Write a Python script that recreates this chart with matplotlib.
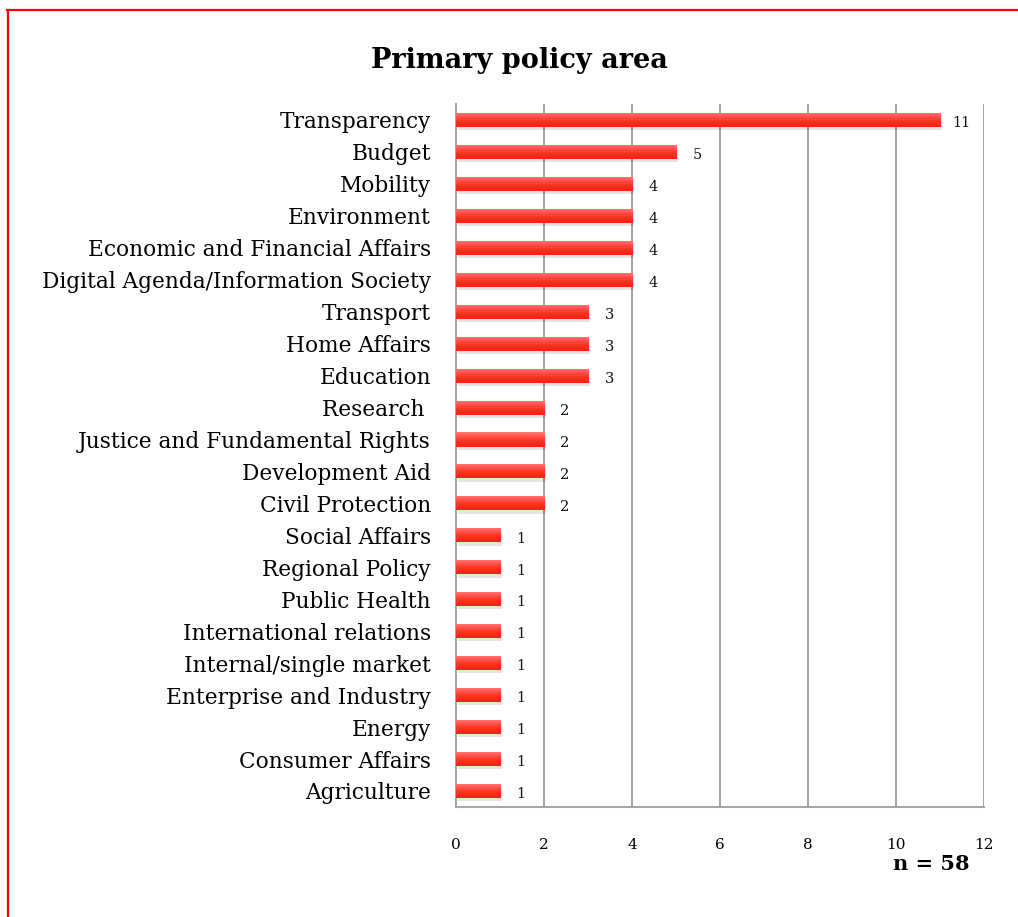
import numpy as np
import matplotlib
matplotlib.use("Agg")
import matplotlib.pyplot as plt
from matplotlib.colors import LinearSegmentedColormap
from matplotlib.lines import Line2D

categories = [
    "Transparency", "Budget", "Mobility", "Environment",
    "Economic and Financial Affairs", "Digital Agenda/Information Society",
    "Transport", "Home Affairs", "Education", "Research ",
    "Justice and Fundamental Rights", "Development Aid", "Civil Protection",
    "Social Affairs", "Regional Policy", "Public Health",
    "International relations", "Internal/single market",
    "Enterprise and Industry", "Energy", "Consumer Affairs", "Agriculture",
]
counts = [11, 5, 4, 4, 4, 4, 3, 3, 3, 2, 2, 2, 2, 1, 1, 1, 1, 1, 1, 1, 1, 1]
x_ticks = [0, 2, 4, 6, 8, 10, 12]
title = "Primary policy area"
sample_note = "n = 58"

SERIF = ["DejaVu Serif"]
GRID = "#a6a6a6"

fig = plt.figure(figsize=(10.18, 9.17), dpi=100)
ax = fig.add_axes([0.4479, 0.12, 0.5187, 0.7666])

ypos = np.arange(len(categories))
bar_h = 0.44

# soft drop shadow under each bar
ax.barh(ypos + 0.10, counts, height=bar_h, left=0.04, color="#000000",
        alpha=0.10, zorder=2, linewidth=0)
bars = ax.barh(ypos, counts, height=bar_h, color="#ff3b2a", zorder=3,
               linewidth=0)

# vertical gradient fill clipped to each bar
grad = LinearSegmentedColormap.from_list(
    "barfill", ["#ff7a72", "#ff5046", "#ff2e1c", "#f52410"])
gimg = np.linspace(0, 1, 64).reshape(-1, 1)
for rect in bars:
    x0, y0 = rect.get_x(), rect.get_y()
    w, h = rect.get_width(), rect.get_height()
    im = ax.imshow(gimg, cmap=grad, aspect="auto", origin="upper",
                   extent=[x0, x0 + w, y0 + h, y0], zorder=4,
                   interpolation="bilinear")
    im.set_clip_path(rect)

for y, v in zip(ypos, counts):
    ax.text(v + 0.48, y + 0.10, str(v), ha="center", va="center",
            fontsize=10.5, family=SERIF, color="#111111", zorder=5)

ax.set_xlim(0, 12)
ax.set_ylim(len(categories) - 0.5, -0.5)
ax.set_xticks(x_ticks)
ax.set_xticklabels([str(t) for t in x_ticks], family=SERIF, fontsize=11)
ax.set_yticks(ypos)
ax.set_yticklabels(categories, family=SERIF, fontsize=15.6)
ax.tick_params(axis="x", length=0, pad=22)
ax.tick_params(axis="y", length=0, pad=18)

ax.set_axisbelow(True)
for t in x_ticks[1:]:
    ax.axvline(t, color=GRID, linewidth=1.5, zorder=1)
for side in ("top", "right"):
    ax.spines[side].set_visible(False)
ax.spines["left"].set_color(GRID)
ax.spines["left"].set_linewidth(1.5)
ax.spines["bottom"].set_color(GRID)
ax.spines["bottom"].set_linewidth(1.5)

fig.text(0.5098, 0.934, title, ha="center", va="center",
         fontsize=19.5, fontweight="bold", family=SERIF)
fig.text(0.915, 0.058, sample_note, ha="center", va="center",
         fontsize=15, fontweight="bold", family=SERIF)

# red frame along the top and left edges
fig.add_artist(Line2D([0.0069, 1.0], [0.989, 0.989], color="#ff0000",
                      linewidth=1.6, transform=fig.transFigure))
fig.add_artist(Line2D([0.0079, 0.0079], [0.0, 0.989], color="#ff0000",
                      linewidth=1.6, transform=fig.transFigure))

fig.savefig("out.png", dpi=100, facecolor="white")
